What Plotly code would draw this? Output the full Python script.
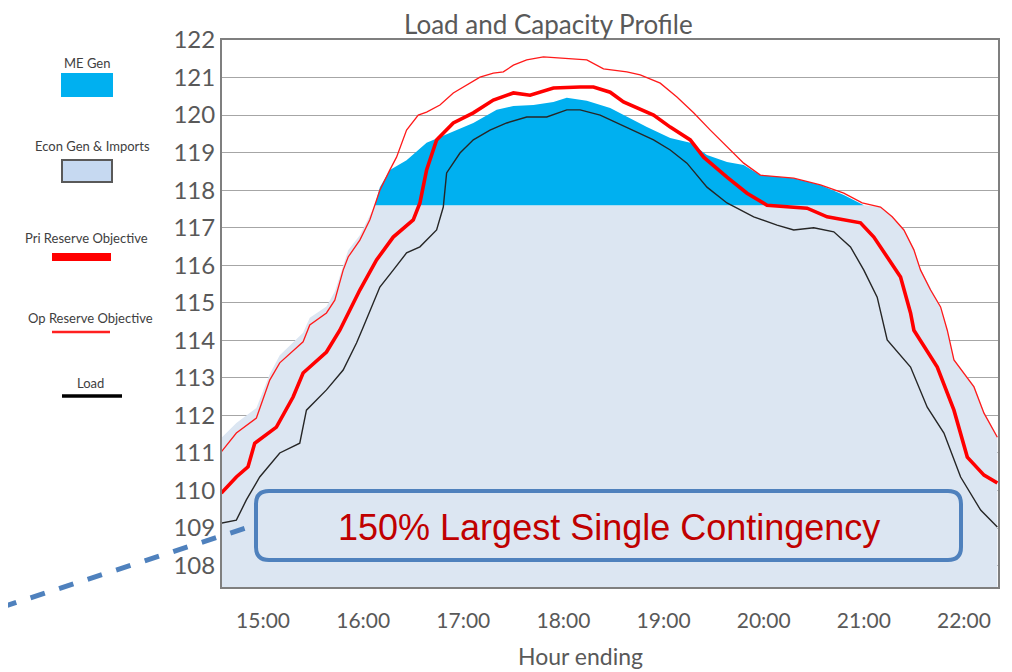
import pandas as pd
import plotly.graph_objects as go

# ---- data (hour ending) ----
DAY = "2024-01-01 "

op_times = ["14:35", "14:44", "14:56", "15:04", "15:10", "15:24", "15:28", "15:38", "15:43", "15:48",
            "15:51", "15:58", "16:04", "16:10", "16:16", "16:20", "16:26", "16:33", "16:38", "16:46",
            "16:54", "17:02", "17:10", "17:18", "17:24", "17:30", "17:38", "17:48", "17:58", "18:14",
            "18:24", "18:38", "18:46", "18:58", "19:08", "19:18", "19:28", "19:38", "19:48", "19:58",
            "20:18", "20:34", "20:48", "20:59", "21:10", "21:17", "21:24", "21:30", "21:34", "21:40",
            "21:46", "21:50", "21:54", "22:06", "22:12", "22:20"]
op_values = [111.03, 111.53, 111.93, 112.94, 113.40, 113.96, 114.41, 114.73, 115.07, 115.87,
             116.22, 116.67, 117.21, 118.00, 118.54, 118.88, 119.60, 120.00, 120.08, 120.27,
             120.59, 120.80, 121.01, 121.12, 121.15, 121.33, 121.47, 121.55, 121.52, 121.47,
             121.23, 121.15, 121.07, 120.85, 120.48, 120.06, 119.60, 119.15, 118.72, 118.40,
             118.32, 118.14, 117.92, 117.66, 117.55, 117.29, 116.94, 116.41, 115.87, 115.34,
             114.89, 114.27, 113.48, 112.76, 112.06, 111.42]

pri_times = ["14:35", "14:44", "14:51", "14:55", "15:08", "15:18", "15:24", "15:38", "15:46", "15:58",
             "16:08", "16:18", "16:30", "16:34", "16:38", "16:44", "16:54", "17:06", "17:18", "17:30",
             "17:40", "17:54", "18:10", "18:18", "18:28", "18:36", "18:54", "19:04", "19:16", "19:24",
             "19:38", "19:50", "20:02", "20:26", "20:38", "20:58", "21:06", "21:14", "21:22", "21:28",
             "21:30", "21:44", "21:54", "22:02", "22:12", "22:20"]
pri_values = [109.93, 110.36, 110.63, 111.26, 111.69, 112.49, 113.13, 113.69, 114.27, 115.34,
              116.14, 116.75, 117.21, 117.66, 118.54, 119.34, 119.79, 120.06, 120.40, 120.59,
              120.53, 120.72, 120.75, 120.75, 120.61, 120.35, 120.00, 119.68, 119.34, 118.88,
              118.35, 117.92, 117.60, 117.52, 117.29, 117.13, 116.75, 116.22, 115.69, 114.73,
              114.27, 113.29, 112.14, 110.89, 110.41, 110.20]

load_times = ["14:35", "14:44", "14:50", "14:58", "15:10", "15:22", "15:26", "15:38", "15:48", "15:56",
              "16:00", "16:10", "16:18", "16:26", "16:34", "16:44", "16:48", "16:50", "16:58", "17:06",
              "17:16", "17:26", "17:38", "17:50", "18:02", "18:10", "18:22", "18:38", "18:54", "19:04",
              "19:14", "19:26", "19:38", "19:54", "20:08", "20:18", "20:30", "20:42", "20:52", "21:00",
              "21:08", "21:14", "21:28", "21:38", "21:48", "21:58", "22:10", "22:20"]
load_values = [109.13, 109.21, 109.75, 110.36, 111.00, 111.26, 112.14, 112.68, 113.21, 113.93,
               114.35, 115.42, 115.87, 116.33, 116.49, 116.94, 117.55, 118.46, 118.99, 119.34,
               119.60, 119.79, 119.95, 119.95, 120.14, 120.14, 120.00, 119.68, 119.34, 119.07,
               118.72, 118.08, 117.66, 117.29, 117.07, 116.94, 117.00, 116.89, 116.49, 115.87,
               115.15, 114.01, 113.29, 112.22, 111.53, 110.36, 109.48, 109.03]

me_base = 117.6
me_times = ["16:07", "16:10", "16:16", "16:26", "16:38", "16:52", "17:06", "17:20", "17:30", "17:42",
            "17:54", "18:02", "18:14", "18:28", "18:38", "18:50", "19:04", "19:16", "19:26", "19:38",
            "19:48", "19:58", "20:18", "20:34", "20:48", "21:00"]
me_values = [117.60, 118.08, 118.54, 118.80, 119.26, 119.52, 119.79, 120.14, 120.24, 120.27,
             120.35, 120.46, 120.38, 120.19, 119.95, 119.68, 119.39, 119.26, 118.94, 118.75,
             118.67, 118.40, 118.32, 118.14, 117.87, 117.60]

econ_times = ["14:35", "14:44", "14:56", "15:04", "15:10", "15:24", "15:28", "15:38", "15:43", "15:48",
              "15:51", "15:58", "16:04", "16:07", "21:00", "21:10", "21:17", "21:24", "21:30", "21:34",
              "21:40", "21:46", "21:50", "21:54", "22:06", "22:12", "22:20"]
econ_values = [111.40, 111.80, 112.20, 113.10, 113.60, 114.20, 114.60, 114.90, 115.30, 116.00,
               116.40, 116.80, 117.35, 117.60, 117.60, 117.55, 117.30, 116.95, 116.45, 115.90,
               115.40, 114.90, 114.30, 113.50, 112.80, 112.10, 111.45]

hour_ticks = ["15:00", "16:00", "17:00", "18:00", "19:00", "20:00", "21:00", "22:00"]
y_ticks = list(range(108, 123))

legend_items = ["ME Gen", "Econ Gen & Imports", "Pri Reserve Objective", "Op Reserve Objective", "Load"]
callout_text = "150% Largest Single Contingency"


def ts(times):
    return pd.to_datetime([DAY + t for t in times])


# ---- geometry: the page puts the figure 8px in from the top-left corner ----
OFF = 8
W, H = 1004, 664
L, R, T, B = 214, 14, 32, 85
PW, PH = W - L - R, H - T - B


def px(x):
    # screen pixel -> paper x
    return (x - OFF - L) / PW


def py(y):
    # screen pixel -> paper y
    return (H - B - (y - OFF)) / PH


fig = go.Figure()

fig.add_trace(go.Scatter(
    x=ts(econ_times), y=econ_values, mode="lines", fill="tozeroy",
    fillcolor="#DCE6F2", line=dict(color="#DCE6F2", width=0), name=legend_items[1],
))
me_x = list(ts(me_times)) + [ts(me_times[-1:])[0], ts(me_times[:1])[0]]
fig.add_trace(go.Scatter(
    x=me_x, y=me_values + [me_base, me_base], mode="lines", fill="toself",
    fillcolor="#00B0F0", line=dict(color="#00B0F0", width=0), name=legend_items[0],
))
fig.add_trace(go.Scatter(
    x=ts(load_times), y=load_values, mode="lines",
    line=dict(color="#262626", width=1.4), name=legend_items[4],
))
fig.add_trace(go.Scatter(
    x=ts(op_times), y=op_values, mode="lines",
    line=dict(color="#FF1A1A", width=1.3), name=legend_items[3],
))
fig.add_trace(go.Scatter(
    x=ts(pri_times), y=pri_values, mode="lines",
    line=dict(color="#FF0000", width=3.6), name=legend_items[2],
))

FONT = "Lato, Open Sans, sans-serif"

fig.update_xaxes(
    range=[DAY + "14:35:24", DAY + "22:20:24"],
    tickvals=ts(hour_ticks), ticktext=hour_ticks,
    tickfont=dict(family=FONT, size=21, color="#595959"),
    showgrid=False, showline=True, linecolor="#7F7F7F", linewidth=2, mirror=True,
    ticks="", ticklabelstandoff=14, layer="above traces",
)
fig.update_yaxes(
    range=[107.43, 122], tickvals=y_ticks,
    tickfont=dict(family=FONT, size=24, color="#595959"),
    showgrid=True, gridcolor="#A6A6A6", gridwidth=1.3,
    showline=True, linecolor="#7F7F7F", linewidth=2, mirror=True,
    ticks="", zeroline=False, layer="above traces",
)

shapes = []
annotations = []


def label(x, y, text, font):
    annotations.append(dict(x=px(x), y=py(y), xref="paper", yref="paper", showarrow=False,
                            xanchor="center", yanchor="middle", text=text, font=font))


# title and axis title
label(548, 24, "Load and Capacity Profile", dict(family=FONT, size=26, color="#595959"))
label(580, 656, "Hour ending", dict(family=FONT, size=23, color="#595959"))

# hand-drawn legend on the left
leg_font = dict(family=FONT, size=13, color="#404040")
leg_text_pos = [(87, 63), (92, 146), (86, 238), (90, 318), (90, 383)]
for name, (lx, ly) in zip(legend_items, leg_text_pos):
    label(lx, ly, name, leg_font)

shapes.append(dict(type="rect", xref="paper", yref="paper", x0=px(61), x1=px(113), y0=py(97), y1=py(73),
                   fillcolor="#00B0F0", line=dict(width=0)))
shapes.append(dict(type="rect", xref="paper", yref="paper", x0=px(62), x1=px(112), y0=py(182), y1=py(160),
                   fillcolor="#C6D9F1", line=dict(color="#595959", width=2)))
shapes.append(dict(type="line", xref="paper", yref="paper", x0=px(52), x1=px(111), y0=py(257), y1=py(257),
                   line=dict(color="#FF0000", width=8)))
shapes.append(dict(type="line", xref="paper", yref="paper", x0=px(52), x1=px(110), y0=py(332), y1=py(332),
                   line=dict(color="#FF2020", width=2.5)))
shapes.append(dict(type="line", xref="paper", yref="paper", x0=px(62), x1=px(122), y0=py(396), y1=py(396),
                   line=dict(color="#000000", width=3.5)))


# rounded call-out box
def rounded_rect(x0, y0, x1, y1, r):
    pts = [
        ("M", [(x0 + r, y0)]), ("L", [(x1 - r, y0)]), ("Q", [(x1, y0), (x1, y0 + r)]),
        ("L", [(x1, y1 - r)]), ("Q", [(x1, y1), (x1 - r, y1)]),
        ("L", [(x0 + r, y1)]), ("Q", [(x0, y1), (x0, y1 - r)]),
        ("L", [(x0, y0 + r)]), ("Q", [(x0, y0), (x0 + r, y0)]),
    ]
    out = []
    for cmd, coords in pts:
        out.append(cmd + " " + " ".join(f"{px(a):.5f},{py(b):.5f}" for a, b in coords))
    return " ".join(out) + " Z"


shapes.append(dict(type="path", xref="paper", yref="paper", path=rounded_rect(256, 491, 961, 560, 13),
                   line=dict(color="#4F81BD", width=4)))
shapes.append(dict(type="line", xref="paper", yref="paper", x0=px(2), y0=py(607), x1=px(246), y1=py(528),
                   line=dict(color="#4F81BD", width=5, dash="dash")))
label(609, 527, callout_text, dict(family="Liberation Sans, Arial, sans-serif", size=36, color="#C00000"))

fig.update_layout(
    width=W, height=H,
    margin=dict(l=L, r=R, t=T, b=B),
    paper_bgcolor="white", plot_bgcolor="white",
    showlegend=False,
    shapes=shapes, annotations=annotations,
)

fig.write_html("out.html")
